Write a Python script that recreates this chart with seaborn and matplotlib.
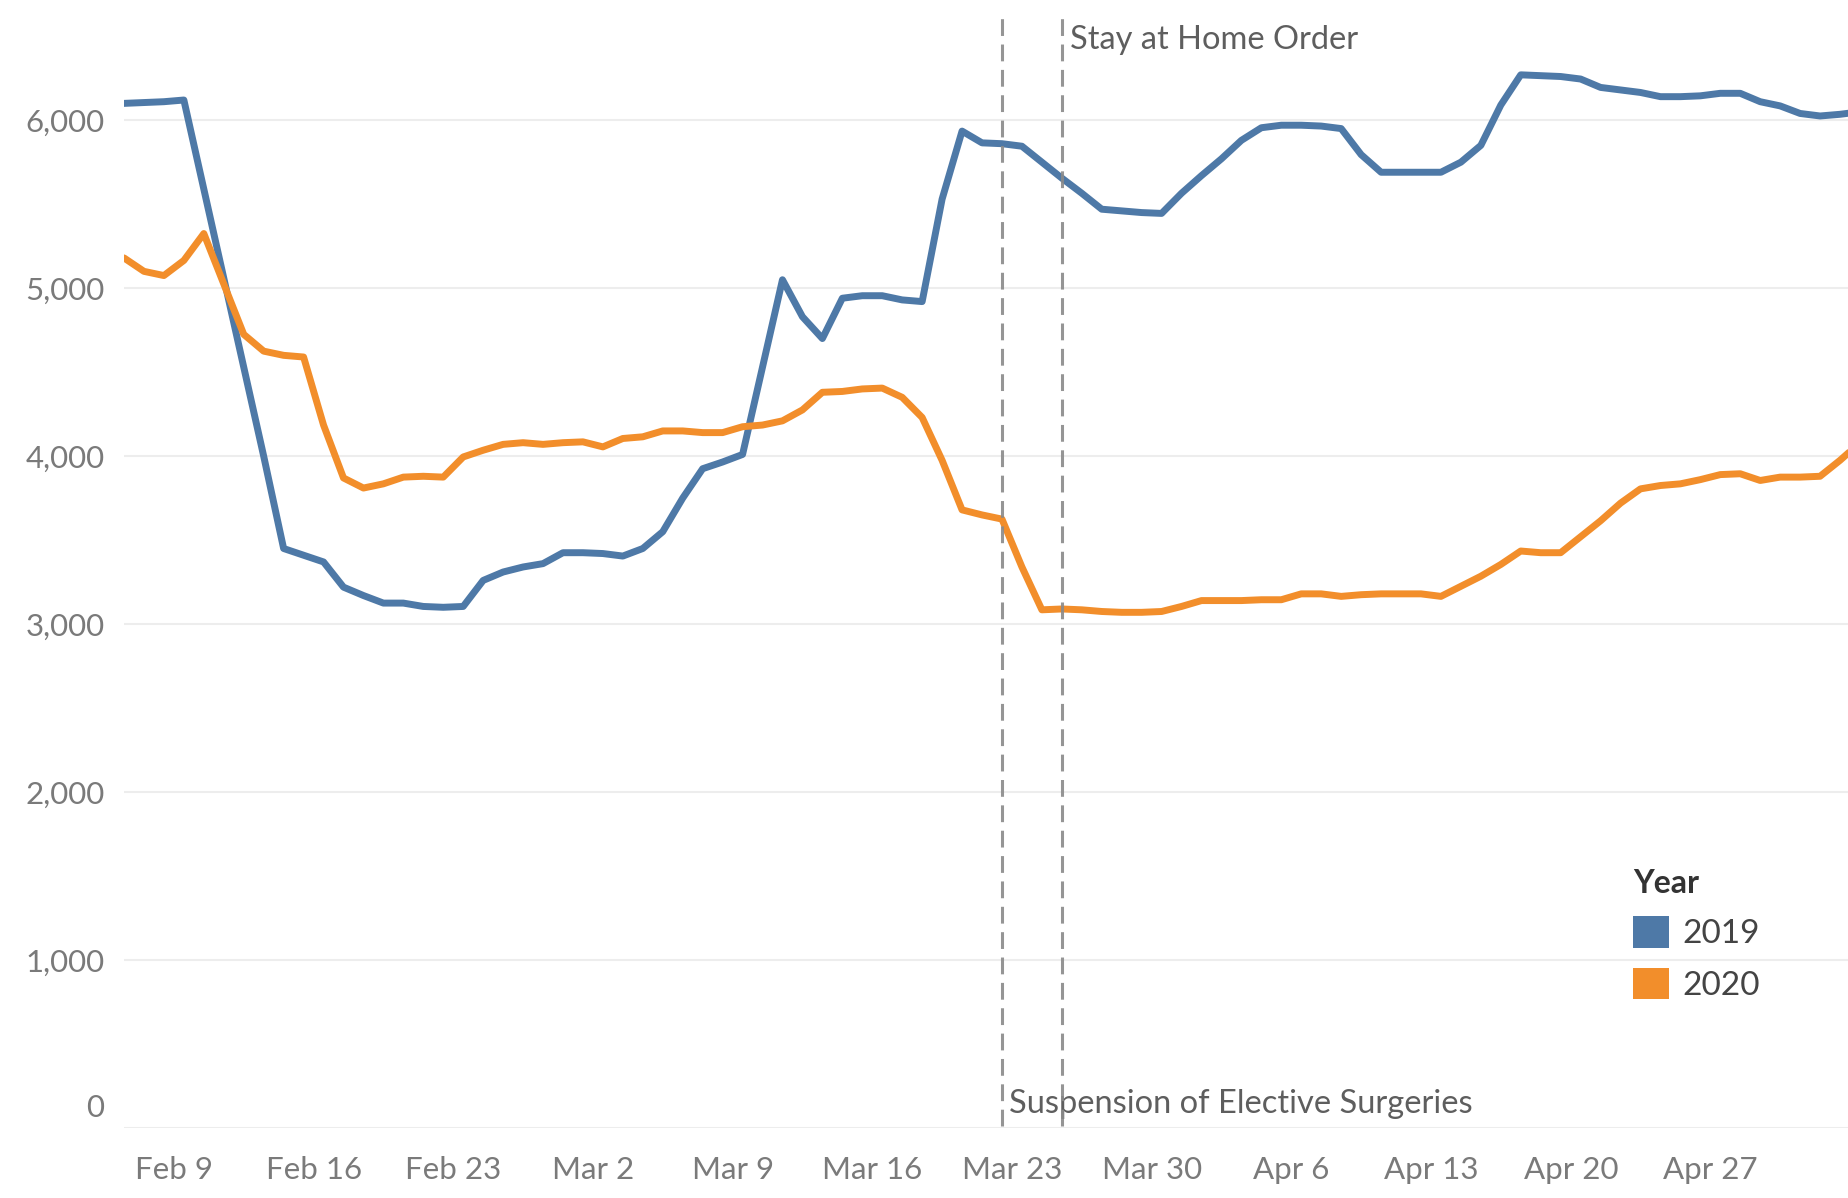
import pandas as pd
import numpy as np
import matplotlib.pyplot as plt
import matplotlib.dates as mdates
from matplotlib.patches import Patch
from matplotlib.ticker import FuncFormatter
from matplotlib.transforms import ScaledTranslation
import seaborn as sns

# daily values, Feb 6 -> May 3 (both years drawn on one non-leap calendar)
start_date = "2019-02-06"
vals_2019 = [6100, 6105, 6110, 6120, 5590, 5060, 4530, 4000, 3450, 3410,
             3370, 3220, 3170, 3125, 3125, 3105, 3100, 3105, 3260, 3310,
             3340, 3360, 3425, 3425, 3420, 3405, 3450, 3550, 3750, 3925,
             3965, 4010, 4530, 5050, 4830, 4700, 4940, 4955, 4955, 4930,
             4920, 5530, 5935, 5865, 5860, 5845, 5750, 5655, 5565, 5470,
             5460, 5450, 5445, 5565, 5670, 5770, 5880, 5955, 5970, 5970,
             5965, 5950, 5795, 5690, 5690, 5690, 5690, 5750, 5850, 6090,
             6270, 6265, 6260, 6245, 6195, 6180, 6165, 6140, 6140, 6145,
             6160, 6160, 6110, 6085, 6040, 6025, 6035, 6050]
vals_2020 = [5180, 5100, 5075, 5165, 5325, 5025, 4725, 4625, 4600, 4590,
             4185, 3870, 3810, 3835, 3875, 3880, 3875, 3995, 4035, 4070,
             4080, 4070, 4080, 4085, 4055, 4105, 4115, 4150, 4150, 4140,
             4140, 4175, 4185, 4210, 4275, 4380, 4385, 4400, 4405, 4350,
             4230, 3975, 3680, 3650, 3625, 3340, 3085, 3090, 3085, 3075,
             3070, 3070, 3075, 3105, 3140, 3140, 3140, 3145, 3145, 3180,
             3180, 3165, 3175, 3180, 3180, 3180, 3165, 3225, 3285, 3355,
             3435, 3425, 3425, 3520, 3615, 3720, 3805, 3825, 3835, 3860,
             3890, 3895, 3855, 3875, 3875, 3880, 3975, 4080]
years = ["2019", "2020"]
colors = ["#4e79a7", "#f28e2b"]

tick_dates = pd.date_range("2019-02-09", "2019-04-27", freq="7D")
event_dates = [pd.Timestamp("2019-03-22"), pd.Timestamp("2019-03-25")]
event_labels = ["Suspension of Elective Surgeries", "Stay at Home Order"]

dates = pd.date_range(start_date, periods=len(vals_2019), freq="D")
df = pd.concat([
    pd.DataFrame({"Date": dates, "Value": vals_2019, "Year": years[0]}),
    pd.DataFrame({"Date": dates, "Value": vals_2020, "Year": years[1]}),
])

sns.set_theme(style="white")
plt.rcParams["font.family"] = ["Lato", "DejaVu Sans"]

fig = plt.figure(figsize=(18.48, 11.98), dpi=100)
ax = fig.add_axes([124 / 1848, 70 / 1198, 1 - 124 / 1848, 1117 / 1198])

sns.lineplot(data=df, x="Date", y="Value", hue="Year", palette=colors,
             linewidth=5, ax=ax, legend=False, zorder=3)

ax.set_xlim(dates[0], dates[0] + pd.Timedelta(days=86.4))
ax.set_ylim(0, 6650)
ax.set_yticks(range(0, 7000, 1000))
ax.yaxis.set_major_formatter(FuncFormatter(lambda v, p: f"{int(v):,}"))
ax.set_xticks(tick_dates)
ax.xaxis.set_major_formatter(mdates.DateFormatter("%b %-d"))
ax.set_xlabel("")
ax.set_ylabel("")

ax.grid(axis="y", color="#ededed", linewidth=1.5)
ax.grid(axis="x", visible=False)
for s in ax.spines.values():
    s.set_visible(False)
ax.tick_params(axis="both", length=0, labelsize=22.5, labelcolor="#7a7a7a")
ax.tick_params(axis="y", pad=14)
ax.tick_params(axis="x", pad=20)

# Tableau lifts the zero label above its gridline, and nudges date labels left
for lab in ax.get_yticklabels():
    if lab.get_text() == "0":
        lab.set_transform(lab.get_transform() + ScaledTranslation(0, 16 / 72, fig.dpi_scale_trans))
for lab in ax.get_xticklabels():
    lab.set_transform(lab.get_transform() + ScaledTranslation(-7 / 72, 0, fig.dpi_scale_trans))

for d in event_dates:
    ax.axvline(d, color="#8a8a8a", linewidth=2.2, linestyle=(0, (5.5, 2.8)),
               ymin=0.002, ymax=0.995, alpha=0.9, zorder=4)

ax.annotate(event_labels[1], xy=(event_dates[1], 0.974), xycoords=("data", "axes fraction"),
            xytext=(6, 0), textcoords="offset points", ha="left", va="center",
            fontsize=23.5, color="#5e5e5e")
ax.annotate(event_labels[0], xy=(event_dates[0], 0.0215), xycoords=("data", "axes fraction"),
            xytext=(5, 0), textcoords="offset points", ha="left", va="center",
            fontsize=23.5, color="#5e5e5e")

handles = [Patch(facecolor=c, edgecolor="none", label=y) for c, y in zip(colors, years)]
leg = fig.legend(handles=handles, title="Year", loc="upper left",
                 bbox_to_anchor=(1633 / 1848, (1198 - 869) / 1198),
                 frameon=False, fontsize=24, title_fontsize=23,
                 handlelength=1.08, handleheight=1.08, handletextpad=0.4,
                 labelspacing=0.55, borderpad=0, borderaxespad=0,
                 alignment="left")
leg.get_title().set_fontweight("bold")
leg.get_title().set_color("#333333")
for t in leg.get_texts():
    t.set_color("#444444")

fig.savefig("out.png", dpi=100)
